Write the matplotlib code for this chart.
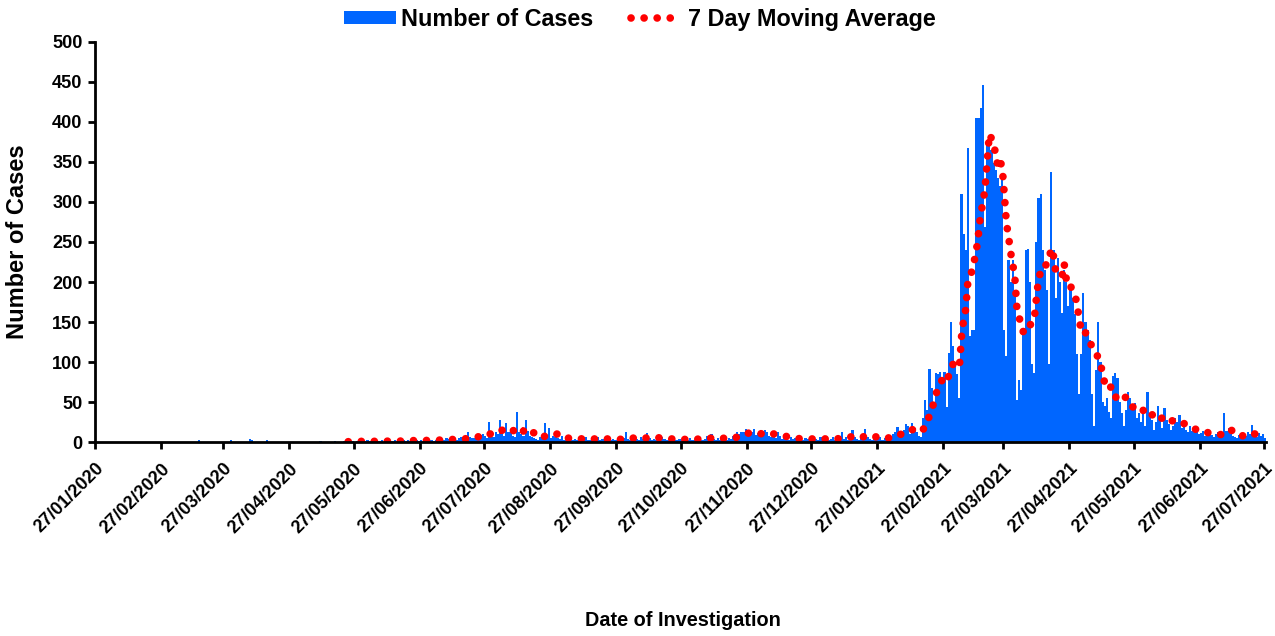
import matplotlib
matplotlib.use('Agg')
import matplotlib.pyplot as plt
from matplotlib import font_manager
from matplotlib.lines import Line2D
from matplotlib.patches import Patch
import numpy as np
import pandas as pd

# daily cases, one list per month window (27th -> 26th of next month)
jan27_2020 = [0, 0, 0, 0, 0, 0, 0, 0, 0, 0, 0, 0, 0, 0, 0, 0, 0, 0, 0, 0,
              0, 0, 0, 0, 0, 0, 0, 0, 0, 0, 0]
feb27_2020 = [0, 0, 0, 0, 0, 0, 0, 0, 0, 0, 0, 0, 0, 0, 0, 0, 0, 2, 0, 0,
              0, 0, 0, 0, 0, 0, 0, 0, 0]
mar27_2020 = [0, 0, 0, 2, 0, 0, 0, 0, 0, 0, 0, 0, 4, 2, 0, 0, 0, 0, 0, 0,
              2, 0, 0, 0, 0, 0, 0, 0, 0, 0, 0]
apr27_2020 = [0, 0, 0, 0, 0, 0, 0, 0, 0, 0, 0, 0, 0, 0, 1, 0, 0, 0, 0, 0,
              0, 1, 0, 0, 0, 1, 0, 1, 0, 1]
may27_2020 = [0, 1, 2, 1, 0, 1, 2, 1, 1, 0, 2, 1, 1, 2, 0, 1, 2, 1, 1, 2,
              1, 0, 2, 3, 1, 2, 1, 2, 3, 2, 1]
jun27_2020 = [2, 1, 3, 2, 2, 3, 1, 2, 4, 3, 2, 3, 5, 4, 3, 2, 4, 3, 5, 6,
              4, 5, 13, 6, 5, 5, 6, 6, 9, 10]
jul27_2020 = [8, 5, 25, 10, 6, 12, 10, 28, 12, 8, 24, 12, 14, 8, 6, 38, 12, 10, 8, 28,
              14, 8, 6, 5, 4, 3, 6, 4, 24, 5, 17]
aug27_2020 = [5, 8, 6, 5, 4, 7, 3, 4, 5, 6, 3, 4, 2, 5, 3, 4, 6, 3, 2, 5,
              4, 3, 6, 2, 4, 3, 5, 4, 3, 4, 2]
sep27_2020 = [3, 4, 2, 5, 12, 4, 3, 5, 2, 4, 3, 6, 4, 9, 11, 5, 3, 4, 2, 5,
              3, 6, 4, 3, 2, 4, 5, 3, 2, 4]
oct27_2020 = [3, 2, 4, 3, 5, 2, 3, 4, 6, 3, 2, 4, 8, 3, 10, 4, 3, 5, 2, 4,
              6, 3, 5, 4, 8, 6, 12, 10, 13, 12, 16]
nov27_2020 = [8, 8, 12, 16, 9, 11, 8, 12, 15, 12, 8, 6, 10, 5, 12, 7, 4, 6, 5, 3,
              6, 4, 5, 3, 4, 6, 3, 5, 4, 2]
dec27_2020 = [3, 5, 4, 2, 6, 4, 3, 5, 2, 4, 6, 3, 5, 8, 12, 4, 6, 3, 5, 15,
              6, 4, 3, 7, 5, 16, 6, 4, 3, 5, 6]
jan27_2021 = [4, 6, 3, 5, 8, 4, 6, 10, 12, 19, 8, 9, 15, 22, 20, 10, 24, 18, 12, 7,
              6, 30, 53, 40, 91, 67, 50, 86, 85, 88, 80]
feb27_2021 = [87, 44, 111, 150, 120, 95, 85, 55, 310, 260, 240, 368, 132, 140, 140, 405,
              405, 417, 446, 269, 378, 375, 365, 349, 340, 330, 320, 330]
mar27_2021 = [140, 107, 228, 200, 228, 190, 52, 78, 65, 140, 240, 241, 200, 98, 86, 250,
              305, 310, 240, 215, 190, 98, 337, 240, 180, 230, 200, 161, 215, 200, 170]
apr27_2021 = [190, 180, 160, 110, 60, 110, 186, 150, 140, 127, 60, 20, 90, 150, 100, 50,
              45, 55, 38, 30, 82, 86, 80, 50, 36, 20, 40, 62, 55, 44]
may27_2021 = [49, 30, 36, 25, 38, 20, 62, 35, 27, 15, 25, 45, 30, 18, 42, 28, 23, 15, 20, 30,
              25, 34, 18, 19, 15, 12, 20, 14, 17, 12, 10]
jun27_2021 = [11, 14, 8, 12, 10, 9, 6, 10, 12, 8, 6, 36, 14, 17, 10, 8, 6, 5, 9, 7,
              4, 8, 12, 10, 21, 9, 6, 11, 8, 10, 5]

start_date = '2020-01-27'
ma_start = '2020-05-24'   # moving average only drawn from here
tick_months = 19

cases = np.array(jan27_2020 + feb27_2020 + mar27_2020 + apr27_2020 + may27_2020
                 + jun27_2020 + jul27_2020 + aug27_2020 + sep27_2020 + oct27_2020
                 + nov27_2020 + dec27_2020 + jan27_2021 + feb27_2021 + mar27_2021
                 + apr27_2021 + may27_2021 + jun27_2021)
days = pd.date_range(start_date, periods=len(cases), freq='D')

ma = pd.Series(cases, index=days, dtype=float).rolling(7).mean()
ma[days < pd.Timestamp(ma_start)] = np.nan

# fonts: the reference text is narrow, use Liberation Sans Narrow if we have it
names = {f.name for f in font_manager.fontManager.ttflist}
if 'Liberation Sans Narrow' in names:
    nfam, k = 'Liberation Sans Narrow', 1.0
else:
    nfam, k = 'Liberation Sans', 0.84

blue = '#0066ff'
dots = (0, (0.01, 1.7))

fig = plt.figure(figsize=(12.75, 6.36), dpi=100)
ax = fig.add_axes([0.0745, 0.305, 0.9185, 0.629])

ax.bar(days, cases, width=1.0, align='edge', color=blue, linewidth=0)
ax.plot(days + pd.Timedelta(hours=12), ma.values, color='red', lw=5.5,
        linestyle=dots, dash_capstyle='round')

ticks = [pd.Timestamp(start_date) + pd.DateOffset(months=i) for i in range(tick_months)]
ax.set_xticks(ticks)
ax.set_xticklabels([t.strftime('%d/%m/%Y') for t in ticks], rotation=45,
                   ha='right', rotation_mode='anchor',
                   fontfamily=nfam, fontweight='bold', fontsize=15.5 * k)
ax.set_xlim(days[0], days[-1] + pd.Timedelta(days=1))

ax.set_ylim(0, 500)
ax.set_yticks(np.arange(0, 501, 50))
for lab in ax.get_yticklabels():
    lab.set_fontfamily(nfam)
    lab.set_fontweight('bold')
    lab.set_fontsize(15.5 * k)

ax.tick_params(axis='both', direction='out', length=5, width=2)
ax.tick_params(axis='x', pad=8)
ax.tick_params(axis='y', pad=4)
for side in ['top', 'right']:
    ax.spines[side].set_visible(False)
for side in ['left', 'bottom']:
    ax.spines[side].set_linewidth(2)

fig.text(18 / 1275, 1 - 242 / 636, 'Number of Cases', rotation=90, ha='center', va='center',
         fontfamily='Liberation Sans', fontweight='bold', fontsize=17)
fig.text(683 / 1275, 1 - 620 / 636, 'Date of Investigation', ha='center', va='center',
         fontfamily=nfam, fontweight='bold', fontsize=17 * k)

handles = [Patch(facecolor=blue, edgecolor='none', label='Number of Cases'),
           Line2D([], [], color='red', lw=5.5, linestyle=dots,
                  dash_capstyle='round', label='7 Day Moving Average')]
fig.legend(handles=handles, loc='upper center', bbox_to_anchor=(0.502, 0.995), ncol=2,
           frameon=False, prop={'family': nfam, 'weight': 'bold', 'size': 20 * k},
           handlelength=2.2, handleheight=0.5, handletextpad=0.25, columnspacing=1.6,
           borderaxespad=0.1, borderpad=0.1)

fig.savefig('out.png', dpi=100)
